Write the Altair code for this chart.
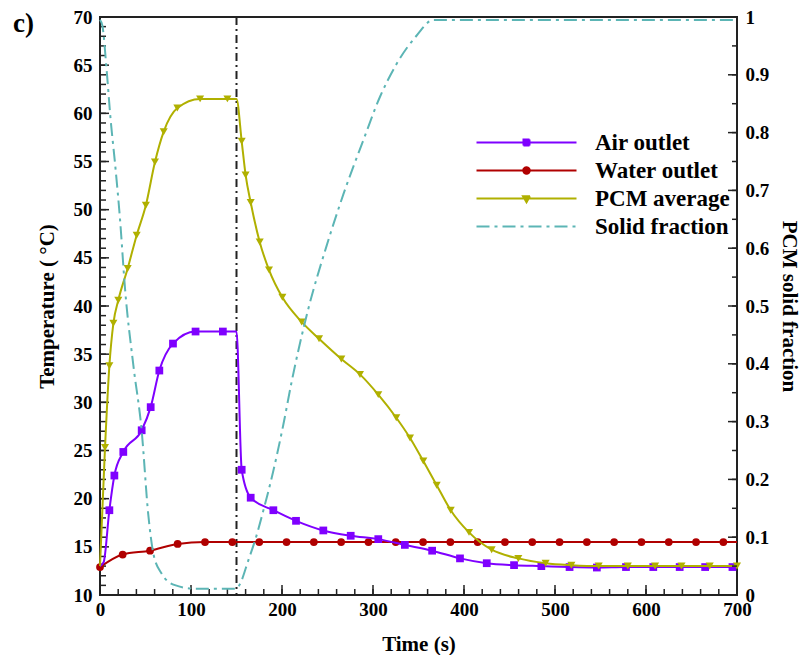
import altair as alt
import pandas as pd
import numpy as np

FONT = "Liberation Serif"
series = ["Air outlet", "Water outlet", "PCM average", "Solid fraction"]
colors = ["#7F00FF", "#B00000", "#B0B000", "#5CB5B5"]

# Air outlet temperature (C)
air_t = [0, 4, 10.3, 15.8, 25.6, 45.8, 55.7, 65.2, 80.2, 105, 135, 150, 155.7, 165.6, 190.5, 215.4,
         245.4, 275.5, 305.8, 335, 365, 395.6, 425, 455, 485, 516, 546, 578, 608, 637, 665, 695, 700]
air_T = [13, 13.4, 18.8, 22.4, 24.85, 27.1, 29.5, 33.3, 36.1, 37.35, 37.35, 37.35, 23.0, 20.1, 18.8, 17.7,
         16.7, 16.15, 15.8, 15.2, 14.6, 13.8, 13.3, 13.1, 13.0, 12.9, 12.85, 12.9, 12.9, 12.9, 12.9, 12.9, 12.9]
air_mk = [0, 0, 1, 1, 1, 1, 1, 1, 1, 1, 1, 0, 1, 1, 1, 1,
          1, 1, 1, 1, 1, 1, 1, 1, 1, 1, 1, 1, 1, 1, 1, 1, 0]

# Water outlet temperature (C)
water_t = [0, 24.9, 55, 85.3, 115.4, 145.4, 175, 205, 235, 265, 295, 325, 355, 385, 415, 445, 475,
           505, 535, 565, 595, 625, 655, 685, 700]
water_T = [12.9, 14.2, 14.6, 15.3, 15.5, 15.5, 15.5, 15.5, 15.5, 15.5, 15.5, 15.5, 15.5, 15.5, 15.5,
           15.5, 15.5, 15.5, 15.5, 15.5, 15.5, 15.5, 15.5, 15.5, 15.5]
water_mk = [1] * 24 + [0]

# PCM average temperature (C)
pcm_t = [0, 5.5, 10.3, 14.7, 20.1, 30.4, 40.3, 50.4, 60.4, 70, 85, 110, 140, 150, 155.7, 160, 165.6,
         175.5, 185.7, 200.4, 221.6, 240.7, 265.2, 285.7, 305.8, 325.6, 340.7, 355.3, 370, 385.4, 405.5,
         430.4, 459.7, 489.7, 518, 548, 580, 610, 639, 670, 700]
pcm_T = [13, 25.3, 33.8, 38.2, 40.6, 43.9, 47.35, 50.45, 54.95, 58.1, 60.55, 61.5, 61.5, 61.5, 57.1, 53.6,
         50.75, 46.65, 43.75, 40.9, 38.35, 36.6, 34.5, 32.9, 30.8, 28.4, 26.3, 23.9, 21.4, 18.8, 16.5,
         14.7, 13.8, 13.3, 13.1, 13.0, 13.0, 13.0, 13.0, 13.0, 13.0]
pcm_mk = [0, 1, 1, 1, 1, 1, 1, 1, 1, 1, 1, 1, 1, 0, 1, 1, 1,
          1, 1, 1, 1, 1, 1, 1, 1, 1, 1, 1, 1, 1, 1,
          1, 1, 1, 1, 1, 1, 1, 1, 1, 1]

# PCM solid fraction (-)
solid_t = [0, 2.6, 7.3, 11.7, 16.5, 22, 27.5, 36.6, 45.8, 53, 58.6, 67.7, 82.4, 104, 150, 153.8, 163,
           170.3, 179.5, 190.5, 201.5, 210.6, 228.9, 249, 267.4, 289.4, 307.7, 326, 348, 366.3, 700]
solid_f = [0.995, 0.985, 0.908, 0.822, 0.747, 0.65, 0.53, 0.398, 0.284, 0.14, 0.072, 0.037, 0.017, 0.011,
           0.011, 0.019, 0.06, 0.094, 0.146, 0.215, 0.295, 0.369, 0.495, 0.604, 0.693, 0.787, 0.862,
           0.919, 0.968, 0.995, 0.995]

switch_t = [150]
x_ticks = list(range(0, 701, 100))
y_ticks = list(range(10, 71, 5))
f_ticks = [round(i * 0.1, 1) for i in range(11)]

W, H = 637, 578

xs = alt.Scale(domain=[0, 700], nice=False, zero=False)
ys = alt.Scale(domain=[10, 70], nice=False, zero=False)
fsc = alt.Scale(domain=[0, 1], nice=False, zero=False)

common_lbl = dict(labelFont=FONT, labelFontSize=19, labelFontWeight="bold", labelColor="black",
                  titleFont=FONT, titleFontSize=21, titleFontWeight="bold", titleColor="black",
                  ticks=False, domain=False, grid=False, labelFlush=False, labelOverlap=False)

xaxis = alt.Axis(title="Time (s)", values=x_ticks, labelPadding=5, titlePadding=14, **common_lbl)
yaxis = alt.Axis(title="Temperature ( °C)", values=y_ticks, orient="left", labelPadding=8,
                 titlePadding=16, **common_lbl)
faxis = alt.Axis(title="PCM solid fraction", values=f_ticks, orient="right", format=".1~f",
                 labelPadding=8, titlePadding=10, **common_lbl)


def X():
    return alt.X("t:Q", scale=xs, axis=xaxis)


def Y():
    return alt.Y("T:Q", scale=ys, axis=yaxis)


def F():
    return alt.Y("f:Q", scale=fsc, axis=faxis)


def series_layers(t, v, mk, color, shape, size):
    df = pd.DataFrame({"t": t, "T": v, "mk": mk})
    line = alt.Chart(df).mark_line(color=color, strokeWidth=2, interpolate="monotone").encode(x=X(), y=Y())
    pts = alt.Chart(df).transform_filter("datum.mk == 1").mark_point(
        filled=True, color=color, shape=shape, size=size, opacity=1).encode(x=X(), y=Y())
    return [line, pts]


air = series_layers(air_t, air_T, air_mk, colors[0], "square", 60)
water = series_layers(water_t, water_T, water_mk, colors[1], "circle", 60)
pcm = series_layers(pcm_t, pcm_T, pcm_mk, colors[2], "triangle-down", 65)

solid_df = pd.DataFrame({"t": solid_t, "f": solid_f})
solid = alt.Chart(solid_df).mark_line(color=colors[3], strokeWidth=2, strokeDash=[13, 5, 3, 5],
                                      interpolate="monotone").encode(x=X(), y=F())

vline = alt.Chart(pd.DataFrame({"t": switch_t})).mark_rule(
    color="#222222", strokeWidth=2, strokeDash=[8, 4, 2, 4]).encode(x=X())

# inward ticks
left_minor = alt.Chart(pd.DataFrame({"T": np.arange(10, 71, 1)})).mark_rule(
    color="#222222", strokeWidth=1.5).encode(y=Y(), x=alt.value(0), x2=alt.value(6))
left_major = alt.Chart(pd.DataFrame({"T": y_ticks})).mark_rule(
    color="#222222", strokeWidth=1.5).encode(y=Y(), x=alt.value(0), x2=alt.value(9))
bot_minor = alt.Chart(pd.DataFrame({"t": np.arange(0, 701, 20)})).mark_rule(
    color="#222222", strokeWidth=1.5).encode(x=X(), y=alt.value(H), y2=alt.value(H - 6))
bot_major = alt.Chart(pd.DataFrame({"t": x_ticks})).mark_rule(
    color="#222222", strokeWidth=1.5).encode(x=X(), y=alt.value(H), y2=alt.value(H - 10))
right_minor = alt.Chart(pd.DataFrame({"f": [round(i * 0.05, 2) for i in range(21)]})).mark_rule(
    color="#222222", strokeWidth=1.5).encode(y=F(), x=alt.value(W), x2=alt.value(W - 5))
right_major = alt.Chart(pd.DataFrame({"f": f_ticks})).mark_rule(
    color="#222222", strokeWidth=1.5).encode(y=F(), x=alt.value(W), x2=alt.value(W - 9))

# legend (line + marker glyphs)
shapes = [
    "M-10,0H10M-0.6,-0.6H0.6V0.6H-0.6Z",
    "M-10,0H10M-0.65,0A0.65,0.65,0,1,0,0.65,0A0.65,0.65,0,1,0,-0.65,0Z",
    "M-10,0H10M-0.7,-0.45L0.7,-0.45L0,0.75Z",
    "M-10,0H10",
]
dashes = [[1, 0], [1, 0], [1, 0], [13, 5, 3, 5]]
leg = alt.Legend(title=None, orient="none", legendX=415, legendY=114, symbolSize=100,
                 symbolStrokeWidth=2, labelOffset=57, labelFont=FONT, labelFontSize=23,
                 labelFontWeight="bold", labelColor="black", rowPadding=4, symbolOpacity=1)
legend_layer = alt.Chart(pd.DataFrame({"series": series})).transform_filter("false").mark_point(
    filled=True, opacity=1).encode(
    fill=alt.Fill("series:N", scale=alt.Scale(domain=series, range=colors), legend=leg),
    stroke=alt.Stroke("series:N", scale=alt.Scale(domain=series, range=colors), legend=leg),
    shape=alt.Shape("series:N", scale=alt.Scale(domain=series, range=shapes), legend=leg),
    strokeDash=alt.StrokeDash("series:N", scale=alt.Scale(domain=series, range=dashes), legend=leg),
)

panel = alt.Chart(pd.DataFrame({"label": ["c)"]})).mark_text(
    font=FONT, fontSize=27, fontWeight="bold", color="black", align="left", baseline="alphabetic"
).encode(text="label:N", x=alt.value(-87), y=alt.value(15))

right_group = alt.layer(solid, right_minor, right_major)
left_group = alt.layer(left_minor, left_major, bot_minor, bot_major, vline,
                       *water, *air, *pcm, legend_layer, panel)

chart = alt.layer(left_group, right_group).resolve_scale(y="independent").properties(
    width=W, height=H,
    padding={"left": 92, "top": 9, "right": 65, "bottom": 60},
    autosize=alt.AutoSizeParams(type="none"),
).configure_view(stroke="#222222", strokeWidth=2)

chart.save("out.html", embed_options={"renderer": "svg", "actions": False})
